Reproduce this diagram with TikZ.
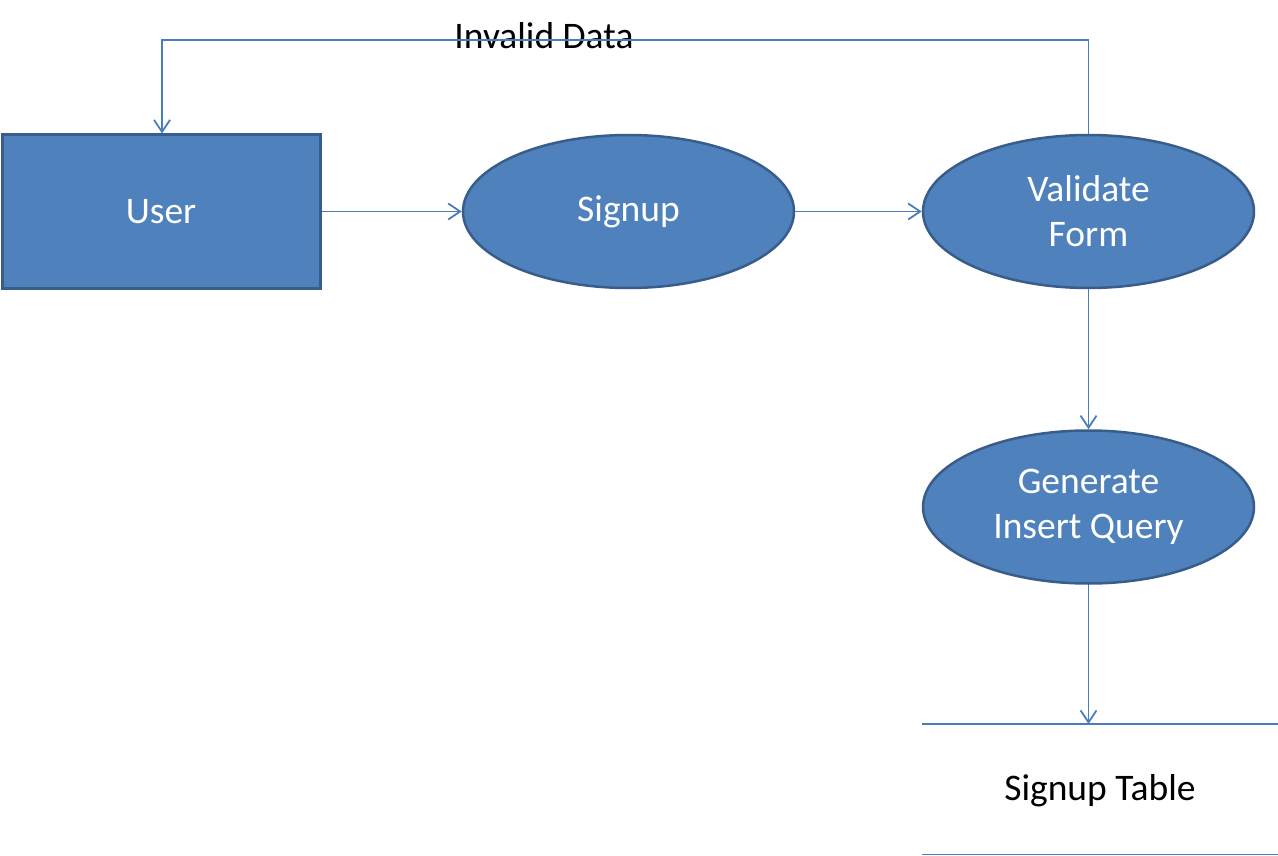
\documentclass[tikz,border=0pt]{standalone}
\usepackage{fontspec}
\setmainfont{Carlito}
\usetikzlibrary{arrows.meta,shapes.geometric}
\definecolor{fillblue}{HTML}{4F81BD}
\definecolor{edgeblue}{HTML}{385D8A}
\definecolor{lineblue}{HTML}{4A7EBB}
\tikzset{
  procbox/.style={ellipse, draw=edgeblue, line width=2.5pt, fill=fillblue, text=white,
    minimum width=331pt, minimum height=153pt, inner sep=0pt, align=center,
    font=\fontsize{37.5}{45}\selectfont},
  entbox/.style={rectangle, draw=edgeblue, line width=3pt, fill=fillblue, text=white,
    minimum width=318pt, minimum height=153pt, inner sep=0pt,
    font=\fontsize{37.5}{45}\selectfont},
  flow/.style={draw=lineblue, line width=1.8pt, -{Straight Barb[length=12pt,width=16pt,line width=1.8pt]}},
  plain/.style={draw=lineblue, line width=1.8pt},
  lbl/.style={text=black, font=\fontsize{37.5}{45}\selectfont, inner sep=0pt}
}
\begin{document}
\begin{tikzpicture}[x=1pt,y=-1pt]
\useasboundingbox (0,0) rectangle (1278,856);
\node[entbox] (user) at (161,211.5) {User};
\node[procbox] (signup) at (628.5,211.5) {Signup};
\node[procbox] (validate) at (1088.5,211.5) {Validate\\Form};
\node[procbox] (generate) at (1088.5,507) {Generate\\Insert Query};
\coordinate (topR) at (1088.5,40);
\coordinate (topL) at (162,40);
\coordinate (storeTopL) at (922,724);
\coordinate (storeTopR) at (1278,724);
\coordinate (storeBotL) at (922,854.5);
\coordinate (storeBotR) at (1278,854.5);
\coordinate (storeIn) at (1088.5,724);
\node[lbl] (invalid) at (544,36) {Invalid Data};
\node[lbl] (table) at (1100,791) {Signup Table};
\draw[flow] (user.east) -- (signup.west);
\draw[flow] (signup.east) -- (validate.west);
\draw[flow] (validate.north) -- (topR) -- (topL) -- (user.north -| topL);
\draw[flow] (validate.south) -- (generate.north);
\draw[flow] (generate.south) -- (storeIn);
\draw[plain] (storeTopL) -- (storeTopR);
\draw[plain] (storeBotL) -- (storeBotR);
\end{tikzpicture}
\end{document}
